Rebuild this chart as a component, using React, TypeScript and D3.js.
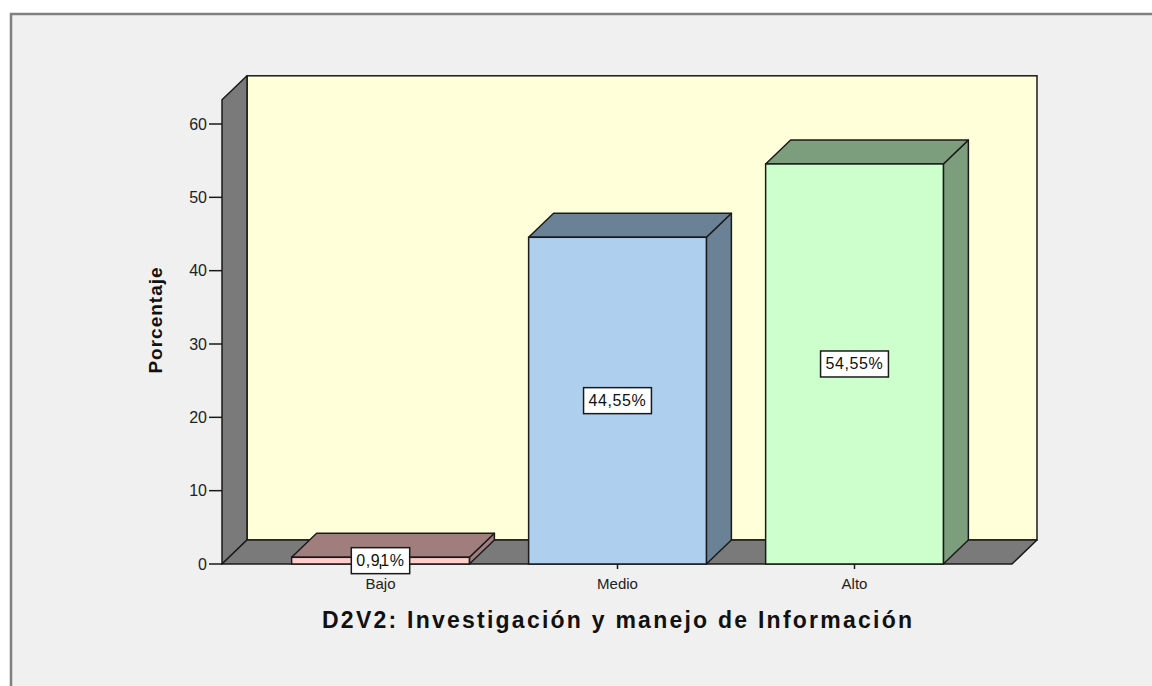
import React, { useEffect, useRef } from "react";
import * as d3 from "d3";

// chart data
const categories = ["Bajo", "Medio", "Alto"];
const percentages = [0.91, 44.55, 54.55];
const valueLabels = ["0,91%", "44,55%", "54,55%"];
const yTicks = [0, 10, 20, 30, 40, 50, 60];

const frontColors = ["#ffcccc", "#aecfee", "#ccffcc"];
const sideColors = ["#a07e7e", "#6b8296", "#7c9e7c"];

const App = () => {
  const ref = useRef<SVGSVGElement>(null);

  useEffect(() => {
    const width = 1152;
    const height = 686;
    const svg = d3.select(ref.current);
    svg.selectAll("*").remove();
    svg.attr("width", width).attr("height", height);

    // depth of the 3D effect
    const dx = 25;
    const dy = -24;

    const x = d3
      .scaleBand<string>()
      .domain(categories)
      .range([262, 973])
      .paddingInner(0.25)
      .paddingOuter(0.125);
    const y = d3.scaleLinear().domain([0, 60]).range([564, 124]);

    const left = 222;
    const right = 1012;
    const y0 = y(0);
    const yTop = y(63.3);
    const font = "Liberation Sans, Arial, sans-serif";

    // page background and frame
    svg.append("rect").attr("width", width).attr("height", height).attr("fill", "#ffffff");
    svg
      .append("rect")
      .attr("x", 11)
      .attr("y", 14)
      .attr("width", width + 10)
      .attr("height", height + 10)
      .attr("fill", "#f0f0f0")
      .attr("stroke", "#7f7f7f")
      .attr("stroke-width", 2.5);

    const poly = (pts: [number, number][]) => "M" + pts.map((p) => p.join(",")).join("L") + "Z";

    // back wall
    svg
      .append("rect")
      .attr("x", left + dx)
      .attr("y", yTop + dy)
      .attr("width", right - left)
      .attr("height", y0 - yTop)
      .attr("fill", "#ffffd9")
      .attr("stroke", "#1a1a1a")
      .attr("stroke-width", 1.5);

    // left wall
    svg
      .append("path")
      .attr(
        "d",
        poly([
          [left, yTop],
          [left + dx, yTop + dy],
          [left + dx, y0 + dy],
          [left, y0],
        ])
      )
      .attr("fill", "#7a7a7a")
      .attr("stroke", "#1a1a1a")
      .attr("stroke-width", 1.5)
      .attr("stroke-linejoin", "round");

    // floor
    svg
      .append("path")
      .attr(
        "d",
        poly([
          [left, y0],
          [left + dx, y0 + dy],
          [right + dx, y0 + dy],
          [right, y0],
        ])
      )
      .attr("fill", "#7a7a7a")
      .attr("stroke", "#1a1a1a")
      .attr("stroke-width", 1.5)
      .attr("stroke-linejoin", "round");

    // bars
    const bars = svg
      .selectAll("g.bar")
      .data(categories)
      .enter()
      .append("g")
      .attr("class", "bar");

    bars.each(function (c, i) {
      const g = d3.select(this);
      const x0 = x(c) as number;
      const x1 = x0 + x.bandwidth();
      const yv = y(percentages[i]);
      g.append("path")
        .attr(
          "d",
          poly([
            [x1, yv],
            [x1 + dx, yv + dy],
            [x1 + dx, y0 + dy],
            [x1, y0],
          ])
        )
        .attr("fill", sideColors[i])
        .attr("stroke", "#1a1a1a")
        .attr("stroke-width", 1.5)
        .attr("stroke-linejoin", "round");
      g.append("path")
        .attr(
          "d",
          poly([
            [x0, yv],
            [x0 + dx, yv + dy],
            [x1 + dx, yv + dy],
            [x1, yv],
          ])
        )
        .attr("fill", sideColors[i])
        .attr("stroke", "#1a1a1a")
        .attr("stroke-width", 1.5)
        .attr("stroke-linejoin", "round");
      g.append("rect")
        .attr("x", x0)
        .attr("y", yv)
        .attr("width", x.bandwidth())
        .attr("height", y0 - yv)
        .attr("fill", frontColors[i])
        .attr("stroke", "#1a1a1a")
        .attr("stroke-width", 1.5);
    });

    // x axis ticks and labels
    const xAxis = svg.append("g");
    categories.forEach((c) => {
      const cx = (x(c) as number) + x.bandwidth() / 2;
      xAxis
        .append("line")
        .attr("x1", cx)
        .attr("x2", cx)
        .attr("y1", y0)
        .attr("y2", y0 + 5)
        .attr("stroke", "#1a1a1a")
        .attr("stroke-width", 1.5);
      xAxis
        .append("text")
        .attr("x", cx)
        .attr("y", y0 + 19)
        .attr("text-anchor", "middle")
        .attr("dominant-baseline", "central")
        .attr("font-family", font)
        .attr("font-size", 15)
        .attr("fill", "#222")
        .text(c);
    });

    // value labels
    bars.each(function (c, i) {
      const g = d3.select(this);
      const cx = (x(c) as number) + x.bandwidth() / 2;
      const cy = (y0 + y(percentages[i])) / 2;
      const t = g
        .append("text")
        .attr("x", cx)
        .attr("y", cy)
        .attr("text-anchor", "middle")
        .attr("dominant-baseline", "central")
        .attr("font-family", font)
        .attr("font-size", 16)
        .attr("letter-spacing", 0.6)
        .attr("fill", "#111")
        .text(valueLabels[i]);
      const w = (t.node() as SVGTextElement).getComputedTextLength() + 10;
      g.insert("rect", "text")
        .attr("x", cx - w / 2)
        .attr("y", cy - 13)
        .attr("width", w)
        .attr("height", 26)
        .attr("fill", "#ffffff")
        .attr("stroke", "#1a1a1a")
        .attr("stroke-width", 1.5);
    });

    // y axis
    const yAxis = svg.append("g");
    yTicks.forEach((v) => {
      yAxis
        .append("line")
        .attr("x1", left - 13)
        .attr("x2", left)
        .attr("y1", y(v))
        .attr("y2", y(v))
        .attr("stroke", "#1a1a1a")
        .attr("stroke-width", 1.5);
      yAxis
        .append("text")
        .attr("x", left - 15)
        .attr("y", y(v))
        .attr("text-anchor", "end")
        .attr("dominant-baseline", "central")
        .attr("font-family", font)
        .attr("font-size", 16)
        .attr("fill", "#222")
        .text(v);
    });

    // axis titles
    svg
      .append("text")
      .attr("x", 322)
      .attr("y", 620)
      .attr("dominant-baseline", "central")
      .attr("font-family", font)
      .attr("font-weight", "bold")
      .attr("font-size", 23)
      .attr("textLength", 590)
      .attr("lengthAdjust", "spacing")
      .attr("fill", "#111")
      .text("D2V2: Investigación y manejo de Información");

    svg
      .append("text")
      .attr("transform", `translate(155,320) rotate(-90)`)
      .attr("text-anchor", "middle")
      .attr("dominant-baseline", "central")
      .attr("font-family", font)
      .attr("font-weight", "bold")
      .attr("font-size", 19)
      .attr("letter-spacing", 1)
      .attr("fill", "#111")
      .text("Porcentaje");
  }, []);

  return <svg ref={ref} style={{ position: "absolute", left: 0, top: 0 }} />;
};

export default App;
